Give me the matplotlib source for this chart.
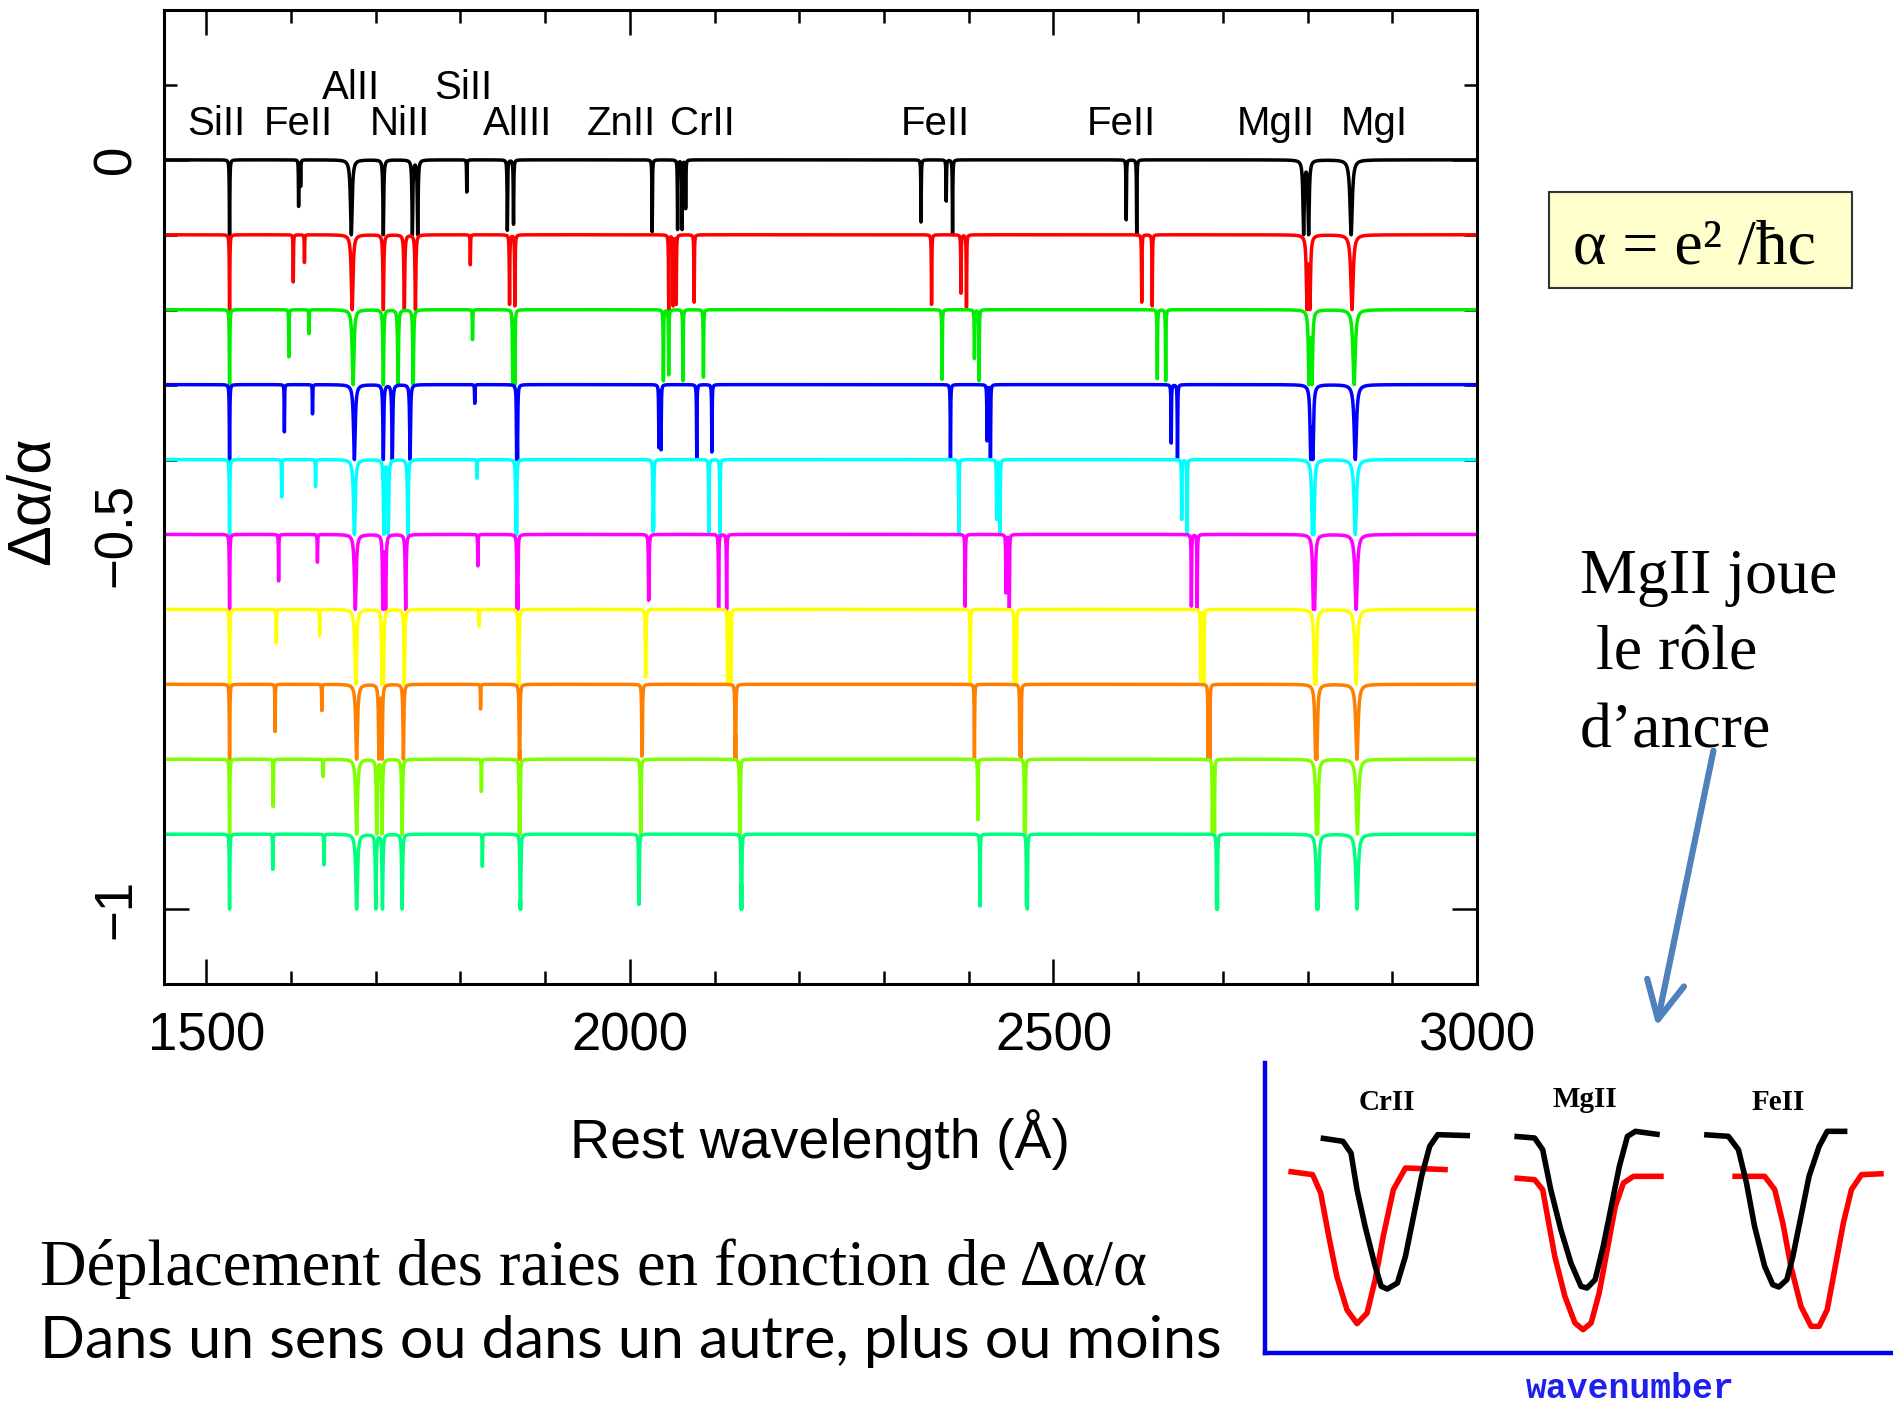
import numpy as np
import matplotlib
matplotlib.use("Agg")
import matplotlib.pyplot as plt
from matplotlib.patches import Rectangle, FancyArrowPatch
from matplotlib.ticker import MultipleLocator, FixedLocator, FixedFormatter

# ---------------- data ----------------
offsets = [0.0, -0.1, -0.2, -0.3, -0.4, -0.5, -0.6, -0.7, -0.8, -0.9]
colors = ["#000000", "#ff0000", "#00ee00", "#0000ff", "#00ffff",
          "#ff00ff", "#ffff00", "#ff8000", "#80ff00", "#00ff80"]

# transitions (order): SiII1526 FeII1608 FeII1611 AlII1670 NiII(3) SiII1808 AlIII(2)
# ZnII/CrII(4) FeII2344/2374/2382 FeII2586/2600 MgII(2) MgI
row0_wave = [1527.4, 1608.9, 1611.3, 1671.1, 1708.9, 1743.2, 1749.5, 1807.4, 1855.3, 1862.6, 2026.3,
             2056.3, 2061.6, 2065.8, 2343.7, 2373.4, 2380.9, 2585.9, 2598.3, 2795.3, 2801.2, 2851.4]
row0_depth = [0.1, 0.062, 0.035, 0.1, 0.1, 0.1, 0.1, 0.043, 0.094, 0.086, 0.096,
              0.093, 0.093, 0.065, 0.083, 0.055, 0.1, 0.08, 0.1, 0.1, 0.1, 0.1]
row1_wave = [1527.4, 1602.6, 1615.8, 1672.1, 1708.9, 1733.7, 1746.8, 1811.6, 1857.9, 1864.2, 2045.8,
             2051.1, 2054.7, 2075.8, 2356.1, 2390.8, 2397.3, 2604.2, 2616.6, 2799.3, 2802.7, 2852.4]
row1_depth = [0.1, 0.063, 0.037, 0.1, 0.1, 0.1, 0.1, 0.04, 0.093, 0.095, 0.1,
              0.095, 0.093, 0.09, 0.093, 0.078, 0.097, 0.09, 0.095, 0.1, 0.1, 0.1]
row2_wave = [1527.4, 1597.4, 1621.1, 1673.2, 1708.9, 1726.3, 1744.2, 1814.2, 1861.6, 1864.2, 2039.5,
             2045.8, 2062.6, 2086.8, 2368.5, 2406.7, 2412.2, 2622.6, 2632.5, 2801.7, 2805.2, 2854.9]
row2_depth = [0.1, 0.063, 0.032, 0.1, 0.1, 0.1, 0.1, 0.04, 0.1, 0.1, 0.095,
              0.087, 0.095, 0.09, 0.093, 0.065, 0.095, 0.092, 0.095, 0.1, 0.1, 0.1]
row3_wave = [1527.4, 1592.1, 1625.3, 1674.7, 1708.9, 1719.5, 1740.5, 1816.8, 1866.3, 1867.3, 2034.2,
             2036.8, 2078.9, 2096.8, 2378.4, 2421.6, 2425.6, 2639.0, 2646.4, 2803.7, 2806.2, 2856.3]
row3_depth = [0.1, 0.063, 0.039, 0.1, 0.1, 0.1, 0.1, 0.025, 0.1, 0.1, 0.084,
              0.087, 0.098, 0.09, 0.098, 0.075, 0.098, 0.078, 0.098, 0.1, 0.1, 0.1]
row4_wave = [1527.4, 1588.9, 1628.9, 1674.7, 1709.5, 1714.8, 1737.9, 1819.5, 1865.3, 1866.3, 2027.4,
             2028.0, 2093.2, 2106.3, 2388.3, 2433.0, 2437.0, 2651.4, 2657.8, 2805.7, 2807.2, 2856.3]
row4_depth = [0.1, 0.05, 0.036, 0.1, 0.1, 0.1, 0.1, 0.025, 0.1, 0.1, 0.095,
              0.09, 0.1, 0.1, 0.1, 0.08, 0.1, 0.08, 0.1, 0.1, 0.1, 0.1]
row5_wave = [1527.4, 1585.3, 1631.1, 1675.8, 1708.4, 1711.6, 1735.3, 1820.5, 1866.8, 1867.6, 2022.1,
             2022.5, 2104.7, 2114.2, 2395.8, 2443.9, 2447.9, 2662.8, 2669.7, 2806.9, 2808.2, 2857.3]
row5_depth = [0.1, 0.062, 0.037, 0.1, 0.1, 0.1, 0.1, 0.042, 0.1, 0.1, 0.083,
              0.08, 0.1, 0.1, 0.096, 0.078, 0.1, 0.096, 0.1, 0.1, 0.1, 0.1]
row6_wave = [1527.4, 1582.6, 1633.7, 1676.3, 1707.4, 1709.0, 1733.7, 1822.1, 1868.4, 1869.0, 2018.4,
             2018.8, 2115.3, 2119.5, 2401.8, 2453.8, 2456.3, 2673.7, 2677.7, 2808.4, 2809.7, 2857.3]
row6_depth = [0.1, 0.045, 0.035, 0.1, 0.1, 0.1, 0.1, 0.022, 0.1, 0.1, 0.086,
              0.08, 0.1, 0.1, 0.098, 0.095, 0.098, 0.095, 0.1, 0.1, 0.1, 0.1]
row7_wave = [1527.4, 1581.1, 1636.3, 1677.4, 1707.4, 1703.7, 1732.6, 1823.7, 1869.5, 1870.0, 2014.2,
             2014.6, 2124.2, 2124.9, 2406.7, 2460.3, 2461.8, 2682.6, 2684.6, 2809.5, 2810.8, 2858.3]
row7_depth = [0.1, 0.063, 0.035, 0.1, 0.1, 0.1, 0.1, 0.033, 0.1, 0.1, 0.094,
              0.09, 0.1, 0.1, 0.099, 0.095, 0.099, 0.1, 0.1, 0.1, 0.1, 0.1]
row8_wave = [1527.4, 1578.9, 1637.9, 1677.4, 1707.4, 1701.1, 1731.1, 1824.7, 1869.5, 1870.3, 2012.6,
             2013.0, 2129.5, 2130.2, 2410.7, 2465.8, 2466.8, 2687.6, 2690.1, 2810.5, 2811.8, 2858.8]
row8_depth = [0.1, 0.063, 0.023, 0.1, 0.1, 0.1, 0.1, 0.043, 0.1, 0.1, 0.1,
              0.1, 0.1, 0.1, 0.081, 0.095, 0.1, 0.1, 0.1, 0.1, 0.1, 0.1]
row9_wave = [1527.4, 1578.4, 1638.9, 1677.4, 1707.9, 1700.0, 1731.1, 1825.8, 1870.5, 1871.0, 2010.5,
             2010.9, 2131.3, 2132.0, 2413.2, 2468.2, 2469.2, 2692.6, 2693.6, 2811.0, 2812.3, 2858.3]
row9_depth = [0.1, 0.047, 0.041, 0.1, 0.1, 0.1, 0.1, 0.043, 0.1, 0.1, 0.09,
              0.09, 0.1, 0.1, 0.096, 0.095, 0.1, 0.1, 0.1, 0.1, 0.1, 0.1]

label_text = ["SiII", "FeII", "AlII", "NiII", "SiII", "AlIII", "ZnII", "CrII", "FeII", "FeII", "MgII", "MgI"]
label_wave = [1512, 1609, 1671, 1729, 1803, 1867, 1990, 2086, 2360, 2580, 2762, 2879]
label_y = [0.048, 0.048, 0.096, 0.048, 0.096, 0.048, 0.048, 0.048, 0.048, 0.048, 0.048, 0.048]

xtick_vals = [1500, 2000, 2500, 3000]
xtick_text = ["1500", "2000", "2500", "3000"]
ytick_vals = [-1.0, -0.5, 0.0]
ytick_text = ["\u22121", "\u22120.5", "0"]

# inset (arbitrary units)
crII_black_x = [138, 193, 213, 228, 248, 273, 288, 303, 328, 348, 368, 388, 408, 428, 508]
crII_black_y = [645, 635, 600, 490, 380, 260, 200, 192, 210, 290, 410, 530, 620, 655, 652]
crII_red_x = [58, 118, 138, 158, 178, 203, 228, 253, 273, 293, 318, 348, 453]
crII_red_y = [545, 535, 480, 350, 230, 130, 88, 120, 220, 350, 490, 555, 550]
mgII_black_x = [618, 668, 688, 708, 733, 758, 783, 798, 818, 838, 858, 878, 898, 918, 978]
mgII_black_y = [650, 645, 610, 490, 370, 270, 200, 195, 220, 320, 440, 560, 650, 665, 655]
mgII_red_x = [618, 668, 688, 703, 718, 743, 768, 788, 808, 828, 848, 868, 888, 913, 988]
mgII_red_y = [525, 520, 490, 390, 290, 170, 90, 70, 90, 180, 310, 440, 510, 530, 530]
feII_black_x = [1088, 1148, 1173, 1193, 1213, 1238, 1258, 1273, 1293, 1308, 1328, 1348, 1373, 1393, 1443]
feII_black_y = [655, 650, 610, 510, 380, 260, 205, 198, 220, 290, 410, 530, 620, 665, 665]
feII_red_x = [1158, 1238, 1263, 1283, 1303, 1328, 1353, 1373, 1393, 1413, 1433, 1453, 1478, 1533]
feII_red_y = [530, 530, 490, 390, 260, 140, 80, 80, 130, 260, 390, 490, 535, 538]
inset_labels = ["CrII", "MgII", "FeII"]
inset_label_x = [303, 793, 1271]
inset_label_y = [750, 760, 752]

# ---------------- style ----------------
line_hwhm = [0.35, 0.25, 0.25, 1.2, 0.6, 0.6, 0.6, 0.25, 0.35, 0.35, 0.3,
             0.3, 0.3, 0.3, 0.3, 0.3, 0.3, 0.3, 0.3, 0.9, 0.9, 1.6]

W, H = 1893, 1404
fig = plt.figure(figsize=(W / 100, H / 100), dpi=100)
fig.patch.set_facecolor("white")

def fx(px):
    return px / W

def fy(py):
    return 1 - py / H

ax = fig.add_axes([fx(164), fy(984), (1477 - 164) / W, (984 - 10) / H])
ax.set_xlim(1450, 3000)
ax.set_ylim(-1.1, 0.2)

rows_wave = [row0_wave, row1_wave, row2_wave, row3_wave, row4_wave,
             row5_wave, row6_wave, row7_wave, row8_wave, row9_wave]
rows_depth = [row0_depth, row1_depth, row2_depth, row3_depth, row4_depth,
              row5_depth, row6_depth, row7_depth, row8_depth, row9_depth]

wl = np.linspace(1450, 3000, 62001)
for k in range(10):
    trans = np.ones_like(wl)
    for c, d, w in zip(rows_wave[k], rows_depth[k], line_hwhm):
        a = (d / 0.1) * w ** 2 / ((wl - c) ** 2 + w ** 2)
        trans *= (1 - a)
    flux = offsets[k] - 0.1 * (1 - trans)
    ax.plot(wl, flux, color=colors[k], lw=2.5, solid_joinstyle="round", zorder=2 + k * 0.01)

for t, xw, yv in zip(label_text, label_wave, label_y):
    ax.text(xw, yv, t, ha="center", va="center", fontsize=29,
            family=["Liberation Sans", "DejaVu Sans"], color="black")

for s in ax.spines.values():
    s.set_linewidth(2.2)
ax.xaxis.set_major_locator(FixedLocator(xtick_vals))
ax.xaxis.set_major_formatter(FixedFormatter(xtick_text))
ax.xaxis.set_minor_locator(MultipleLocator(100))
ax.yaxis.set_major_locator(FixedLocator(ytick_vals))
ax.yaxis.set_major_formatter(FixedFormatter(ytick_text))
ax.yaxis.set_minor_locator(MultipleLocator(0.1))
ax.tick_params(which="both", direction="in", top=True, right=True, width=1.8)
ax.tick_params(which="major", length=18)
ax.tick_params(which="minor", length=9.5)
ax.tick_params(axis="x", labelsize=38, pad=20)
ax.tick_params(axis="y", labelsize=38, pad=16, labelrotation=90)
for lab in ax.get_xticklabels() + ax.get_yticklabels():
    lab.set_family(["Liberation Sans", "DejaVu Sans"])
for lab in ax.get_yticklabels():
    lab.set_va("center")

ax.set_xlabel("Rest wavelength (\u00c5)", fontsize=40, family=["Liberation Sans", "DejaVu Sans"])
ax.xaxis.set_label_coords(0.5, (984 - 1140) / 974)
ax.xaxis.label.set_va("center")
ax.set_ylabel("\u0394\u03b1/\u03b1", fontsize=44, family=["Liberation Sans", "DejaVu Sans"])
ax.yaxis.set_label_coords((34 - 164) / 1313, (984 - 501) / 974)
ax.yaxis.label.set_va("center")

# ---------------- annotations ----------------
serif = ["Liberation Serif", "DejaVu Serif"]
fig.patches.append(Rectangle((fx(1549), fy(288)), 303 / W, 96 / H, transform=fig.transFigure,
                             facecolor="#ffffcc", edgecolor="#333333", lw=1.5, zorder=1))
fig.text(fx(1694), fy(263), "\u03b1 = e\u00b2 /\u0127c", fontsize=46, family=serif,
         ha="center", va="baseline", zorder=2)

fig.text(fx(1580), fy(593), "MgII joue", fontsize=46, family=serif, ha="left", va="baseline")
fig.text(fx(1580), fy(670), " le r\u00f4le", fontsize=46, family=serif, ha="left", va="baseline")
fig.text(fx(1580), fy(747), "d\u2019ancre", fontsize=46, family=serif, ha="left", va="baseline")

arrow = FancyArrowPatch((fx(1714), fy(748)), (fx(1656), fy(1029)), transform=fig.transFigure,
                        arrowstyle="->,head_length=0.9,head_width=0.45", mutation_scale=30,
                        color="#4f81bd", lw=4.5)
fig.patches.append(arrow)

fig.text(fx(40), fy(1285), "D\u00e9placement des raies en fonction de \u0394\u03b1/\u03b1",
         fontsize=46.5, family=serif, ha="left", va="baseline")
fig.text(fx(40), fy(1358), "Dans un sens ou dans un autre, plus ou moins",
         fontsize=42.7, family=["Lato", "DejaVu Sans"], ha="left", va="baseline")

# ---------------- inset sketch ----------------
ins = fig.add_axes([fx(1265), fy(1353), (W - 1265) / W, (1353 - 1063) / H])
ins.set_xlim(0, 1556)
ins.set_ylim(0, 870)
ins.patch.set_alpha(0)
for side in ["top", "right"]:
    ins.spines[side].set_visible(False)
for side in ["left", "bottom"]:
    ins.spines[side].set_color("#0000ee")
    ins.spines[side].set_linewidth(3.2)
ins.set_xticks([])
ins.set_yticks([])
for xs, ys, c in [(crII_red_x, crII_red_y, "#ff0000"), (crII_black_x, crII_black_y, "#000000"),
                  (mgII_red_x, mgII_red_y, "#ff0000"), (mgII_black_x, mgII_black_y, "#000000"),
                  (feII_red_x, feII_red_y, "#ff0000"), (feII_black_x, feII_black_y, "#000000")]:
    ins.plot(xs, ys, color=c, lw=4.0, solid_joinstyle="round", solid_capstyle="butt")
for t, xv, yv in zip(inset_labels, inset_label_x, inset_label_y):
    ins.text(xv, yv, t, ha="center", va="center", fontsize=21, family=serif, fontweight="bold")

fig.text(fx(1630), fy(1388), "wavenumber", fontsize=25, family=["Liberation Mono", "DejaVu Sans Mono"],
         fontweight="bold", color="#2020ee", ha="center", va="center")

fig.savefig("out.png", dpi=100)
